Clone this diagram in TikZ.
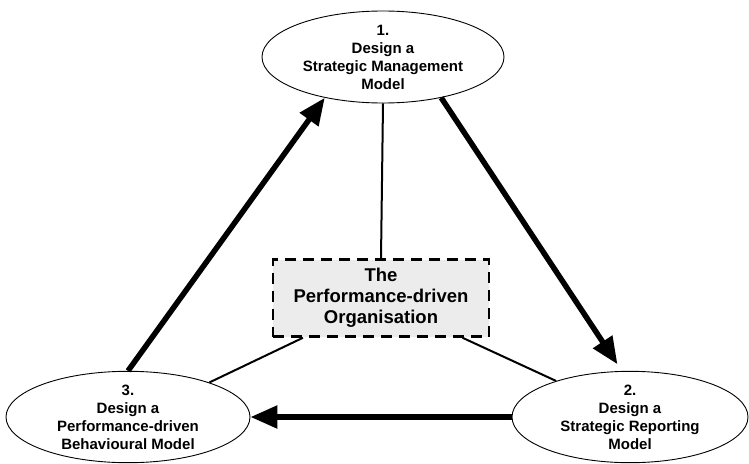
\documentclass[tikz,border=0pt]{standalone}
\usepackage{fontspec}
\setmainfont{Liberation Sans}
\usetikzlibrary{shapes.geometric,arrows.meta}
\tikzset{
  stage/.style={draw, ellipse, line width=0.9pt, inner sep=0pt, align=center, font=\bfseries\fontsize{15}{18}\selectfont},
  flow/.style={line width=5.5pt, -{Triangle[length=27pt,width=22pt]}},
  link/.style={line width=2pt}
}
\begin{document}
\begin{tikzpicture}[x=1pt,y=-1pt]
\useasboundingbox (0,0) rectangle (749,463);
\node[stage, minimum width=242pt, minimum height=92pt] (s1) at (383,57) {1.\\Design a\\Strategic Management\\Model};
\node[stage, minimum width=236pt, minimum height=90pt] (s2) at (630,417) {2.\\Design a\\Strategic Reporting\\Model};
\node[stage, minimum width=244pt, minimum height=90pt] (s3) at (128,417) {3.\\Design a\\Performance-driven\\Behavioural Model};
\node[draw, fill=gray!15, line width=2.5pt, dash pattern=on 11pt off 7pt, minimum width=216pt, minimum height=77pt, inner sep=0pt, align=center, font=\bfseries\fontsize{18.5}{21}\selectfont] (org) at (381,298) {The\\Performance-driven\\Organisation};
\draw[link] (s1.south) -- (org.north);
\draw[link] (org.207) -- (s3.23);
\draw[link] (org.334) -- (s2.154);
\draw[flow] (s3.north) -- (s1.215);
\draw[flow, shorten >=8pt] (s1.325) -- (s2.100);
\draw[flow] (s2.west) -- (s3.east);
\end{tikzpicture}
\end{document}
